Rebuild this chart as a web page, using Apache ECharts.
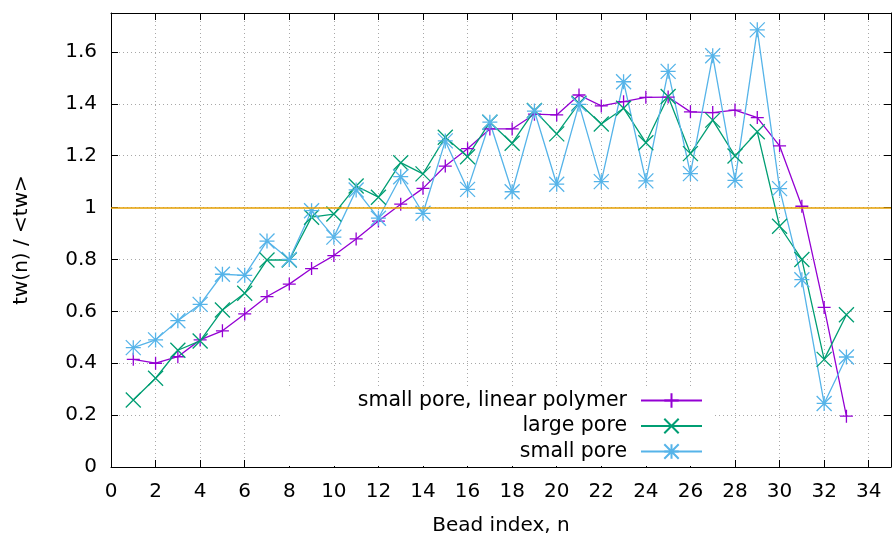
<!DOCTYPE html>
<html>
<head>
<meta charset="utf-8">
<script src="https://cdn.jsdelivr.net/npm/echarts@6/dist/echarts.min.js"></script>
<style>
  html, body { margin: 0; padding: 0; background: #fff; }
  #chart { width: 893px; height: 539px; }
</style>
</head>
<body>
<div id="chart"></div>
<script>
// bead index n
var beads = [1, 2, 3, 4, 5, 6, 7, 8, 9, 10, 11, 12, 13, 14, 15, 16, 17,
             18, 19, 20, 21, 22, 23, 24, 25, 26, 27, 28, 29, 30, 31, 32, 33];

// tw(n) / <tw>
var linearPolymer = [0.415, 0.40, 0.425, 0.49, 0.525, 0.59, 0.657, 0.705, 0.765, 0.815, 0.879,
                     0.948, 1.013, 1.074, 1.16, 1.227, 1.303, 1.303, 1.36, 1.357, 1.434, 1.392,
                     1.408, 1.425, 1.426, 1.369, 1.366, 1.376, 1.347, 1.238, 1.005, 0.615, 0.196];
var largePore = [0.258, 0.342, 0.45, 0.486, 0.605, 0.67, 0.798, 0.798, 0.963, 0.975, 1.083,
                 1.04, 1.173, 1.13, 1.271, 1.196, 1.329, 1.248, 1.374, 1.284, 1.402, 1.322,
                 1.383, 1.25, 1.428, 1.208, 1.337, 1.199, 1.292, 0.928, 0.80, 0.415, 0.587];
var smallPore = [0.46, 0.49, 0.564, 0.627, 0.743, 0.739, 0.871, 0.80, 0.988, 0.886, 1.068,
                 0.959, 1.119, 0.978, 1.257, 1.07, 1.329, 1.061, 1.372, 1.09, 1.398, 1.10,
                 1.485, 1.103, 1.525, 1.131, 1.585, 1.105, 1.685, 1.073, 0.722, 0.245, 0.424];

var seriesNames = ['small pore, linear polymer', 'large pore', 'small pore'];
var refValue = 1;

var FONT = 'DejaVu Sans';
var GRID_LINE = { show: true, lineStyle: { color: '#a8a8a8', width: 1, type: [1, 3] } };

// 坐标点 -> [n, value]
function pairs(vals) {
    return beads.map(function (n, i) { return [n, vals[i]]; });
}

// gnuplot 风格的点形
var SYM_PLUS = 'path://M0,5L10,5M5,0L5,10';
var SYM_CROSS = 'path://M0,0L10,10M0,10L10,0';
var SYM_STAR = 'path://M0,5L10,5M5,0L5,10M0,0L10,10M0,10L10,0';

function lineSeries(name, vals, color, symbol, size) {
    return {
        name: name,
        type: 'line',
        data: pairs(vals),
        symbol: symbol,
        symbolSize: size,
        showAllSymbol: true,
        lineStyle: { color: color, width: 1.3 },
        itemStyle: { color: color, borderColor: color, borderWidth: 1.3 },
        emphasis: { disabled: true }
    };
}

var chart = echarts.init(document.getElementById('chart'));

var axisLineBlack = { show: true, onZero: false, lineStyle: { color: '#000', width: 1 } };
var tickIn = { show: true, inside: true, length: 7, lineStyle: { color: '#000', width: 1 } };

chart.setOption({
    animation: false,
    textStyle: { fontFamily: FONT },
    grid: { left: 111, right: 2, top: 13, bottom: 72, outerBoundsMode: 'none', containLabel: false },
    legend: {
        data: seriesNames,
        orient: 'vertical',
        align: 'right',
        right: 178,
        top: 389,
        padding: [1, 12, 4, 75],
        backgroundColor: '#fff',
        itemWidth: 61,
        itemHeight: 18,
        itemGap: 4.5,
        selectedMode: false,
        textStyle: { fontFamily: FONT, fontSize: 20.5, lineHeight: 20, color: '#000', padding: [0, 9, 0, 0] }
    },
    xAxis: [{
        type: 'value', position: 'bottom', min: 0, max: 35, interval: 2,
        name: 'Bead index, n', nameLocation: 'middle', nameGap: 49,
        nameTextStyle: { fontFamily: FONT, fontSize: 20, color: '#000' },
        axisLine: axisLineBlack, axisTick: tickIn,
        axisLabel: { fontFamily: FONT, fontSize: 20, color: '#000', margin: 15, showMaxLabel: false },
        splitLine: GRID_LINE
    }, {
        type: 'value', position: 'top', min: 0, max: 35, interval: 2,
        axisLine: axisLineBlack, axisTick: tickIn,
        axisLabel: { show: false }, splitLine: { show: false }
    }],
    yAxis: [{
        type: 'value', position: 'left', min: 0, max: 1.75, interval: 0.2,
        name: 'tw(n) / <tw>', nameLocation: 'middle', nameGap: 79,
        nameTextStyle: { fontFamily: FONT, fontSize: 20, color: '#000' },
        axisLine: axisLineBlack, axisTick: tickIn,
        axisLabel: { fontFamily: FONT, fontSize: 20, color: '#000', margin: 14, showMaxLabel: false },
        splitLine: GRID_LINE
    }, {
        type: 'value', position: 'right', min: 0, max: 1.75, interval: 0.2,
        axisLine: axisLineBlack, axisTick: tickIn,
        axisLabel: { show: false }, splitLine: { show: false }
    }],
    series: [
        {
            name: 'ref',
            type: 'line',
            data: [],
            markLine: {
                silent: true,
                symbol: 'none',
                label: { show: false },
                lineStyle: { color: '#e69f00', width: 1.6, type: 'solid' },
                data: [{ yAxis: refValue }]
            }
        },
        lineSeries(seriesNames[0], linearPolymer, '#9400d3', SYM_PLUS, 13),
        lineSeries(seriesNames[1], largePore, '#009e73', SYM_CROSS, 15),
        lineSeries(seriesNames[2], smallPore, '#56b4e9', SYM_STAR, 15)
    ]
});
</script>
</body>
</html>
